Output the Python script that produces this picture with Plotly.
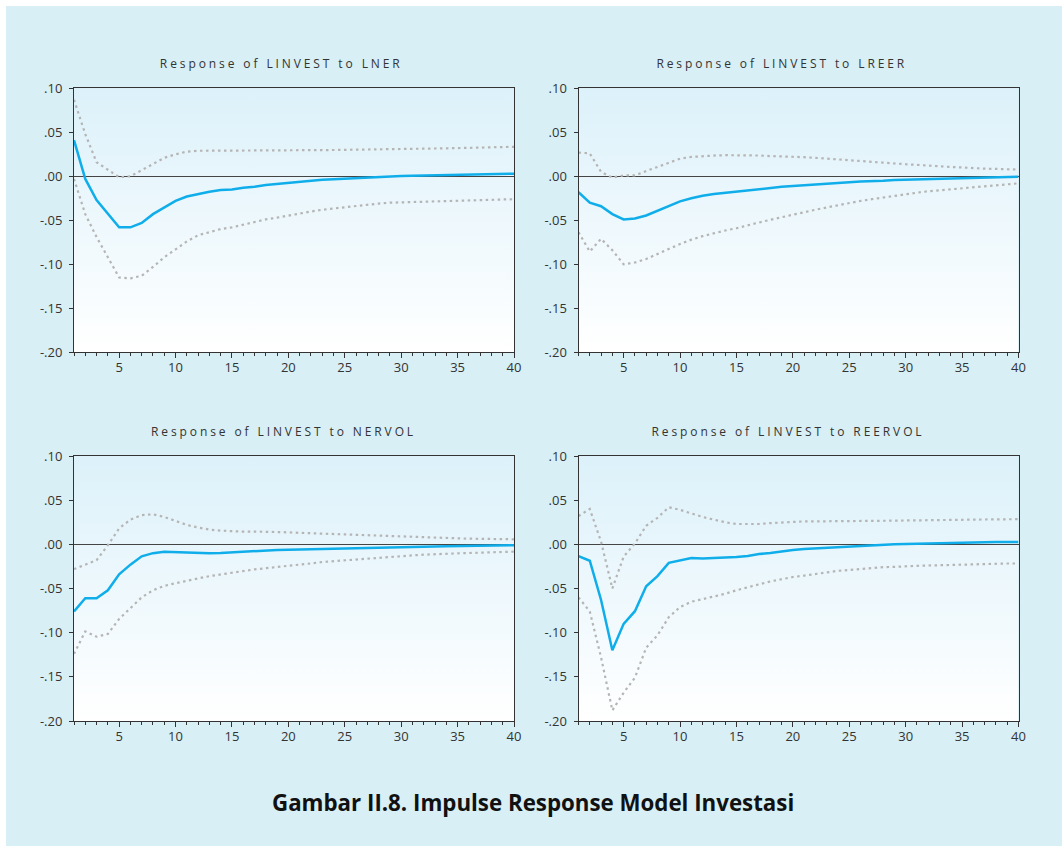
import base64
import plotly.graph_objects as go

# ---------------- data ----------------
periods = list(range(1, 41))

titles = ["Response of LINVEST to LNER", "Response of LINVEST to LREER",
          "Response of LINVEST to NERVOL", "Response of LINVEST to REERVOL"]

y_tickvals = [0.10, 0.05, 0.00, -0.05, -0.10, -0.15, -0.20]
y_ticktext = [".10", ".05", ".00", "-.05", "-.10", "-.15", "-.20"]
x_tickvals = [5, 10, 15, 20, 25, 30, 35, 40]

lner_resp = [0.041, -0.003, -0.027, -0.043, -0.058, -0.058, -0.053, -0.043, -0.035, -0.028,
             -0.023, -0.020, -0.0175, -0.0156, -0.015, -0.013, -0.012, -0.010, -0.0087, -0.0076,
             -0.0065, -0.0053, -0.004, -0.0034, -0.0027, -0.0019, -0.0011, -0.0004, 0.0, 0.0004,
             0.0007, 0.001, 0.0014, 0.0017, 0.002, 0.0022, 0.0025, 0.0027, 0.0029, 0.003]
lner_upper = [0.087, 0.048, 0.016, 0.007, -0.001, 0.000, 0.007, 0.014, 0.021, 0.025,
              0.028, 0.029, 0.029, 0.029, 0.029, 0.029, 0.029, 0.029, 0.0292, 0.0295,
              0.0296, 0.0297, 0.0298, 0.0299, 0.030, 0.0302, 0.0304, 0.0306, 0.0308, 0.031,
              0.0312, 0.0314, 0.0316, 0.0318, 0.032, 0.0323, 0.0326, 0.0329, 0.0332, 0.0335]
lner_lower = [-0.003, -0.043, -0.069, -0.092, -0.115, -0.116, -0.113, -0.103, -0.092, -0.083,
              -0.074, -0.067, -0.0635, -0.060, -0.058, -0.055, -0.052, -0.049, -0.047, -0.0445,
              -0.042, -0.040, -0.038, -0.0365, -0.035, -0.034, -0.032, -0.031, -0.030, -0.0297,
              -0.029, -0.0287, -0.0284, -0.0281, -0.0278, -0.0275, -0.0272, -0.0268, -0.0264, -0.026]

lreer_resp = [-0.018, -0.030, -0.034, -0.043, -0.049, -0.048, -0.0445, -0.039, -0.034, -0.0285,
              -0.025, -0.022, -0.020, -0.0186, -0.017, -0.0156, -0.0145, -0.013, -0.012, -0.011,
              -0.010, -0.009, -0.0084, -0.0076, -0.0068, -0.006, -0.0057, -0.005, -0.0042, -0.0038,
              -0.0034, -0.003, -0.0027, -0.0023, -0.0019, -0.0015, -0.0011, -0.0008, -0.0007, -0.0005]
lreer_upper = [0.027, 0.026, 0.005, -0.0015, 0.001, 0.001, 0.006, 0.0106, 0.015, 0.020,
               0.022, 0.023, 0.0236, 0.024, 0.024, 0.024, 0.0236, 0.023, 0.0228, 0.022,
               0.0217, 0.021, 0.020, 0.019, 0.018, 0.017, 0.0163, 0.0156, 0.0145, 0.0137,
               0.013, 0.012, 0.011, 0.0106, 0.010, 0.009, 0.0087, 0.0084, 0.008, 0.0076]
lreer_lower = [-0.0635, -0.0855, -0.071, -0.084, -0.100, -0.098, -0.094, -0.088, -0.0825, -0.077,
               -0.072, -0.068, -0.0646, -0.0616, -0.059, -0.0555, -0.0525, -0.0494, -0.0464, -0.0433,
               -0.0407, -0.038, -0.0354, -0.0327, -0.0304, -0.028, -0.026, -0.024, -0.022, -0.020,
               -0.0186, -0.017, -0.016, -0.0148, -0.0137, -0.0125, -0.0114, -0.0103, -0.0091, -0.008]

nervol_resp = [-0.076, -0.061, -0.061, -0.052, -0.034, -0.023, -0.0136, -0.010, -0.0083, -0.0087,
               -0.0095, -0.010, -0.010, -0.0098, -0.009, -0.0083, -0.0076, -0.0068, -0.0064, -0.006,
               -0.0057, -0.0053, -0.005, -0.0045, -0.0042, -0.0038, -0.0036, -0.0034, -0.0032, -0.003,
               -0.0028, -0.0026, -0.0025, -0.0023, -0.0022, -0.002, -0.0018, -0.0015, -0.0012, -0.001]
nervol_upper = [-0.028, -0.023, -0.018, -0.001, 0.018, 0.028, 0.033, 0.034, 0.031, 0.0265,
                0.022, 0.019, 0.0167, 0.0155, 0.0148, 0.0144, 0.0144, 0.0144, 0.014, 0.0136,
                0.013, 0.0125, 0.012, 0.0117, 0.0114, 0.0106, 0.0102, 0.0098, 0.0095, 0.0087,
                0.0083, 0.008, 0.0076, 0.0072, 0.0068, 0.0064, 0.0064, 0.006, 0.006, 0.0057]
nervol_lower = [-0.124, -0.0985, -0.1045, -0.1015, -0.0845, -0.072, -0.060, -0.052, -0.047, -0.044,
                -0.041, -0.0386, -0.036, -0.034, -0.032, -0.030, -0.0284, -0.027, -0.0258, -0.0242,
                -0.0227, -0.0216, -0.020, -0.019, -0.0178, -0.0167, -0.016, -0.0148, -0.014, -0.0133,
                -0.0125, -0.0117, -0.011, -0.0106, -0.0102, -0.0098, -0.0095, -0.0087, -0.0083, -0.0083]

reervol_resp = [-0.0133, -0.0186, -0.063, -0.120, -0.090, -0.0757, -0.0475, -0.036, -0.021, -0.018,
                -0.0156, -0.016, -0.0156, -0.0156, -0.0144, -0.0133, -0.011, -0.0099, -0.008, -0.0065,
                -0.0053, -0.0046, -0.0034, -0.0027, -0.0023, -0.0015, -0.0008, -0.0004, 0.0, 0.0004,
                0.0008, 0.0011, 0.0015, 0.0017, 0.002, 0.0022, 0.0024, 0.0025, 0.0026, 0.0027]
reervol_upper = [0.032, 0.040, 0.003, -0.050, -0.014, 0.001, 0.021, 0.030, 0.042, 0.039,
                 0.035, 0.031, 0.028, 0.025, 0.023, 0.0228, 0.023, 0.024, 0.0247, 0.0255,
                 0.026, 0.026, 0.026, 0.026, 0.026, 0.0262, 0.0264, 0.0266, 0.0268, 0.027,
                 0.027, 0.0272, 0.0274, 0.0276, 0.0278, 0.028, 0.028, 0.0282, 0.0284, 0.0285]
reervol_lower = [-0.060, -0.076, -0.128, -0.188, -0.168, -0.151, -0.117, -0.103, -0.0825, -0.071,
                 -0.065, -0.062, -0.059, -0.056, -0.052, -0.0487, -0.045, -0.042, -0.0395, -0.037,
                 -0.0354, -0.0335, -0.032, -0.030, -0.029, -0.0278, -0.0266, -0.0258, -0.0255, -0.0247,
                 -0.0243, -0.024, -0.0236, -0.0232, -0.0232, -0.0228, -0.0228, -0.0224, -0.0217, -0.0217]

caption = "Gambar II.8. Impulse Response Model Investasi"

panels = [
    (lner_resp, lner_upper, lner_lower),
    (lreer_resp, lreer_upper, lreer_lower),
    (nervol_resp, nervol_upper, nervol_lower),
    (reervol_resp, reervol_upper, reervol_lower),
]

# ---------------- layout geometry ----------------
W, H = 1062, 846
px_x = lambda p: p / W
px_y = lambda p: 1 - p / H

col_x = [(74, 514), (578.5, 1018.5)]
row_y = [(88.3, 352.3), (456, 721)]
title_pos = [(281, 63), (782, 63), (283, 432), (788, 432)]

BLUE = "#0faeea"
GRAY = "#b5b5b5"
TXT = "#333333"
FONT = "Open Sans"

svg = ("<svg xmlns='http://www.w3.org/2000/svg' width='100' height='100' preserveAspectRatio='none'>"
       "<defs><linearGradient id='g' x1='0' y1='0' x2='0' y2='1'>"
       "<stop offset='0' stop-color='#dcf1fa'/><stop offset='1' stop-color='#ffffff'/>"
       "</linearGradient></defs><rect width='100' height='100' fill='url(#g)'/></svg>")
svg_uri = "data:image/svg+xml;base64," + base64.b64encode(svg.encode()).decode()

fig = go.Figure()
layout = dict(
    width=W, height=H, autosize=False,
    margin=dict(l=0, r=0, t=0, b=0, pad=0, autoexpand=False),
    paper_bgcolor="#d8eff5",
    plot_bgcolor="rgba(0,0,0,0)",
    showlegend=False,
    font=dict(family=FONT, size=12, color=TXT),
    images=[], annotations=[], shapes=[],
)

for i, (resp, up, lo) in enumerate(panels):
    r, c = divmod(i, 2)
    n = i + 1
    xa = "x" if n == 1 else f"x{n}"
    ya = "y" if n == 1 else f"y{n}"
    xkey = "xaxis" if n == 1 else f"xaxis{n}"
    ykey = "yaxis" if n == 1 else f"yaxis{n}"
    x0, x1 = col_x[c]
    ytop, ybot = row_y[r]
    layout[xkey] = dict(
        domain=[px_x(x0), px_x(x1)], anchor=ya, range=[1, 40], automargin=False,
        tickmode="array", tickvals=x_tickvals, ticks="outside", ticklen=5, tickwidth=1,
        tickcolor="#333", showgrid=False, zeroline=False, showline=True, mirror=True,
        linecolor="#333", linewidth=1, ticklabelstandoff=-2,
        tickfont=dict(family=FONT, size=13, color=TXT),
        minor=dict(tickmode="linear", tick0=0, dtick=1, ticks="outside", ticklen=3,
                   tickcolor="#333", showgrid=False),
    )
    layout[ykey] = dict(
        domain=[px_y(ybot), px_y(ytop)], anchor=xa, range=[-0.2, 0.1], automargin=False,
        tickmode="array", tickvals=y_tickvals, ticktext=y_ticktext,
        ticks="outside", ticklen=4, tickwidth=1, tickcolor="#333",
        showgrid=False, zeroline=True, zerolinecolor="#444", zerolinewidth=1,
        showline=True, mirror=True, linecolor="#333", linewidth=1, ticklabelstandoff=4,
        tickfont=dict(family=FONT, size=13, color=TXT),
    )
    layout["images"].append(dict(
        source=svg_uri, xref=f"{xa} domain", yref=f"{ya} domain", x=0, y=1,
        sizex=1, sizey=1, xanchor="left", yanchor="top", sizing="stretch", layer="below",
    ))
    tx, ty = title_pos[i]
    layout["annotations"].append(dict(
        text=titles[i], xref="paper", yref="paper", x=px_x(tx), y=px_y(ty),
        xanchor="center", yanchor="middle", showarrow=False,
        font=dict(family=FONT, size=12, color=TXT),
    ))
    fig.add_trace(go.Scatter(x=periods, y=up, mode="lines", xaxis=xa, yaxis=ya,
                             line=dict(color=GRAY, width=2.2, dash="2.5px,3.5px")))
    fig.add_trace(go.Scatter(x=periods, y=lo, mode="lines", xaxis=xa, yaxis=ya,
                             line=dict(color=GRAY, width=2.2, dash="2.5px,3.5px")))
    fig.add_trace(go.Scatter(x=periods, y=resp, mode="lines", xaxis=xa, yaxis=ya,
                             line=dict(color=BLUE, width=2.5)))

layout["annotations"].append(dict(
    text=f"<b>{caption}</b>", xref="paper", yref="paper", x=px_x(533), y=px_y(802),
    xanchor="center", yanchor="middle", showarrow=False,
    font=dict(family=FONT, size=22.3, color="#111111"),
))
# thin white border at top and left, as in the source page
layout["shapes"] = [
    dict(type="rect", xref="paper", yref="paper", x0=0, x1=1, y0=px_y(6), y1=1,
         fillcolor="white", line=dict(width=0), layer="below"),
    dict(type="rect", xref="paper", yref="paper", x0=0, x1=px_x(6), y0=0, y1=1,
         fillcolor="white", line=dict(width=0), layer="below"),
]
fig.update_layout(**layout)

post = """
document.body.style.margin='0';
var gd = document.getElementById('{plot_id}');
gd.querySelectorAll('.annotation-text').forEach(function(t){
  if (t.textContent.indexOf('Response') === 0) { t.style.letterSpacing = '2.9px'; }
});
"""
fig.write_html("out.html", post_script=post,
               config={"displayModeBar": False, "responsive": False})
